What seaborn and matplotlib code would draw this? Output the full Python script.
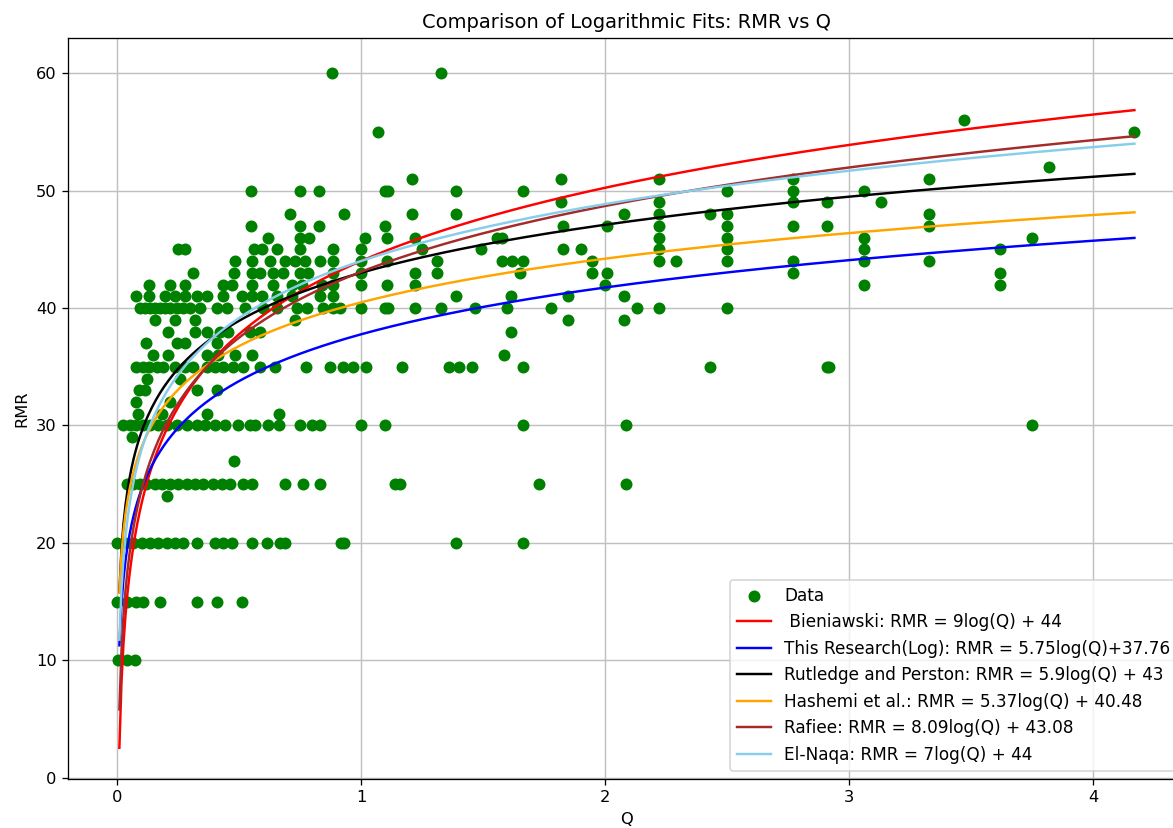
import numpy as np
import pandas as pd
import matplotlib
matplotlib.use("Agg")
import matplotlib.pyplot as plt
import seaborn as sns

# ---- Data (Q values for each RMR level) ----
q_60 = [0.88, 1.33]
q_56 = [3.47]
q_55 = [1.07, 4.17]
q_52 = [3.82]
q_51 = [1.21, 1.82, 2.22, 2.77, 3.33]
q_50 = [0.55, 0.75, 0.83, 1.10, 1.11, 1.39, 1.665, 2.50, 2.77, 3.06]
q_49 = [1.82, 2.22, 2.77, 2.91, 3.13]
q_48 = [0.709, 0.93, 1.21, 1.39, 2.08, 2.22, 2.43, 2.50, 3.33]
q_47 = [0.55, 0.75, 0.83, 1.10, 1.83, 2.01, 2.22, 2.50, 2.77, 2.91, 3.33]
q_46 = [0.62, 0.75, 0.788, 1.016, 1.105, 1.22, 1.556, 1.58, 2.22, 2.50, 3.06, 3.75]
q_45 = [0.251, 0.279, 0.56, 0.593, 0.654, 0.75, 0.887, 1.0, 1.25, 1.49, 1.83,
        1.90, 2.22, 2.50, 3.06, 3.62]
q_44 = [0.484, 0.552, 0.627, 0.689, 0.73, 0.77, 0.832, 0.887, 1.0, 1.105, 1.31,
        1.577, 1.618, 1.665, 1.945, 2.22, 2.29, 2.50, 2.77, 3.06, 3.33]
q_43 = [0.313, 0.48, 0.552, 0.586, 0.641, 0.682, 0.75, 0.784, 0.887, 1.0, 1.22,
        1.31, 1.65, 1.945, 2.01, 2.77, 3.62]
q_42 = [0.133, 0.217, 0.279, 0.436, 0.47, 0.552, 0.641, 0.716, 0.757, 0.839,
        0.887, 1.0, 1.105, 1.22, 2.0, 3.06, 3.62]
q_41 = [0.078, 0.133, 0.197, 0.238, 0.279, 0.327, 0.368, 0.436, 0.511, 0.552,
        0.593, 0.654, 0.716, 0.832, 0.887, 1.39, 1.617, 1.85, 2.08]
q_40 = [0.094, 0.115, 0.135, 0.156, 0.176, 0.197, 0.217, 0.245, 0.272, 0.30,
        0.34, 0.408, 0.449, 0.525, 0.6, 0.654, 0.736, 0.777, 0.846, 0.887, 0.914,
        1.0, 1.10, 1.11, 1.22, 1.33, 1.467, 1.6, 1.78, 2.13, 2.22, 2.50]
q_39 = [0.156, 0.238, 0.32, 0.73, 1.85, 2.08]
q_38 = [0.21, 0.32, 0.368, 0.422, 0.456, 0.545, 0.586, 1.617]
q_37 = [0.119, 0.245, 0.279, 0.408]
q_36 = [0.149, 0.21, 0.368, 0.415, 0.484, 0.552, 1.587]
q_35 = [0.078, 0.105, 0.133, 0.163, 0.19, 0.238, 0.279, 0.313, 0.368, 0.402,
        0.436, 0.477, 0.518, 0.586, 0.648, 0.775, 0.873, 0.928, 0.969, 1.02,
        1.167, 1.36, 1.40, 1.456, 1.665, 2.43, 2.91, 2.92]
q_34 = [0.125, 0.26]
q_33 = [0.09, 0.115, 0.327, 0.408]
q_32 = [0.08, 0.217]
q_31 = [0.086, 0.183, 0.368, 0.665]
q_30 = [0.026, 0.053, 0.08, 0.108, 0.135, 0.169, 0.204, 0.245, 0.286, 0.327,
        0.361, 0.402, 0.443, 0.497, 0.545, 0.566, 0.62, 0.665, 0.75, 0.798,
        0.832, 1.0, 1.10, 1.665, 2.085, 3.75]
q_29 = [0.06]
q_27 = [0.48]
q_25 = [0.04, 0.066, 0.094, 0.121, 0.156, 0.183, 0.217, 0.251, 0.286, 0.32,
        0.354, 0.395, 0.43, 0.464, 0.518, 0.552, 0.689, 0.761, 0.832, 1.14,
        1.16, 1.73, 2.085]
q_24 = [0.204]
q_20 = [0.0, 0.033, 0.067, 0.101, 0.135, 0.169, 0.204, 0.238, 0.272, 0.327,
        0.402, 0.436, 0.47, 0.552, 0.613, 0.668, 0.689, 0.92, 0.93, 1.39, 1.665]
q_15 = [0.0, 0.04, 0.08, 0.108, 0.176, 0.327, 0.408, 0.511]
q_10 = [0.005, 0.04, 0.074]

rmr_levels = [60, 56, 55, 52, 51, 50, 49, 48, 47, 46, 45, 44, 43, 42, 41, 40,
              39, 38, 37, 36, 35, 34, 33, 32, 31, 30, 29, 27, 25, 24, 20, 15, 10]
q_rows = [q_60, q_56, q_55, q_52, q_51, q_50, q_49, q_48, q_47, q_46, q_45,
          q_44, q_43, q_42, q_41, q_40, q_39, q_38, q_37, q_36, q_35, q_34,
          q_33, q_32, q_31, q_30, q_29, q_27, q_25, q_24, q_20, q_15, q_10]

# Logarithmic models: RMR = a*ln(Q) + b
model_labels = [" Bieniawski: RMR = 9log(Q) + 44",
                "This Research(Log): RMR = 5.75log(Q)+37.76",
                "Rutledge and Perston: RMR = 5.9log(Q) + 43",
                "Hashemi et al.: RMR = 5.37log(Q) + 40.48",
                "Rafiee: RMR = 8.09log(Q) + 43.08",
                "El-Naqa: RMR = 7log(Q) + 44"]
model_a = [9, 5.75, 5.9, 5.37, 8.09, 7]
model_b = [44, 37.76, 43, 40.48, 43.08, 44]
model_colors = ["red", "blue", "black", "orange", "brown", "skyblue"]

# ---- Build data frame ----
Q_all, RMR_all = [], []
for lvl, qs in zip(rmr_levels, q_rows):
    Q_all.extend(qs)
    RMR_all.extend([lvl] * len(qs))
df = pd.DataFrame({"Q": Q_all, "RMR": RMR_all})

q_fit = np.linspace(0.01, max(Q_all), 500)

DPI = 117.3
fig = plt.figure(figsize=(1173 / DPI, 828 / DPI), dpi=DPI)
ax = fig.add_axes([0.0581, 0.0592, 0.9527, 0.895])

sns.scatterplot(data=df, x="Q", y="RMR", color="green", s=54, linewidth=0,
                label="Data", ax=ax, zorder=2)
for lab, a, b, c in zip(model_labels, model_a, model_b, model_colors):
    sns.lineplot(x=q_fit, y=a * np.log(q_fit) + b, color=c, label=lab,
                 ax=ax, linewidth=1.5, zorder=3)

ax.set_xlim(-0.2, 4.38)
ax.set_ylim(-0.1, 63)
ax.set_xticks([0, 1, 2, 3, 4])
ax.set_yticks([0, 10, 20, 30, 40, 50, 60])
ax.grid(True, color="#c0c0c0", linewidth=0.9)
ax.set_axisbelow(True)
ax.set_title("Comparison of Logarithmic Fits: RMR vs Q", fontsize=12)
ax.set_xlabel("Q")
ax.set_ylabel("RMR")
ax.legend(loc="lower right", fontsize=10.4)

fig.savefig("out.png", dpi=DPI)
